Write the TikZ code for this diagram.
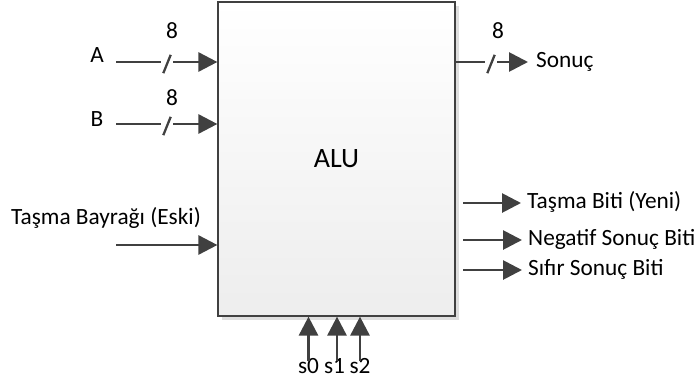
\documentclass[tikz,border=0pt]{standalone}
\usepackage{fontspec}
\setmainfont{Carlito}
\usetikzlibrary{arrows.meta,positioning,shadows}
\definecolor{pen}{HTML}{404040}
\begin{document}
\begin{tikzpicture}[
    x=1pt, y=-1pt,
    blk/.style={draw=pen, line width=1.2pt, minimum width=237pt, minimum height=314pt,
        top color=white, bottom color=black!7,
        drop shadow={shadow xshift=4pt, shadow yshift=-4pt, fill=black!13, opacity=1},
        font=\fontsize{28}{32}\selectfont},
    lbl/.style={inner sep=1pt, font=\fontsize{23.3}{27}\selectfont, text height=15pt, text depth=4pt},
    outlbl/.style={lbl, anchor=west, inner xsep=6pt},
    cut/.style={inner sep=0pt, minimum width=12pt, minimum height=18pt},
    slash/.style={draw=pen, line width=2.3pt},
    sig/.style={draw=pen, line width=2.8pt, -{Triangle[length=19pt,width=19pt]}},
    wire/.style={draw=pen, line width=2.8pt}
]
    \useasboundingbox (0,0) rectangle (698,383);

    % ALU blogu
    \node[blk] (alu) at (336.5,159) {ALU};

    % A girisi
    \node[lbl] (a) at (97,57) {A};
    \coordinate (inA) at (116,62);
    \node[cut] (sA) at (167,64) {};
    \node[lbl] (nA) at (172,33) {8};
    \draw[wire] (inA) -- (inA -| sA.west);
    \draw[sig] (inA -| sA.east) -- (inA -| alu.west);
    \draw[slash] ([xshift=2.5pt]sA.south west) -- ([xshift=-2.5pt]sA.north east);

    % B girisi
    \node[lbl] (b) at (97,121) {B};
    \coordinate (inB) at (116,124);
    \node[cut] (sB) at (167,126) {};
    \node[lbl] (nB) at (172,100) {8};
    \draw[wire] (inB) -- (inB -| sB.west);
    \draw[sig] (inB -| sB.east) -- (inB -| alu.west);
    \draw[slash] ([xshift=2.5pt]sB.south west) -- ([xshift=-2.5pt]sB.north east);

    % elde girisi
    \node[lbl] (eski) at (106,219) {Taşma Bayrağı (Eski)};
    \coordinate (inC) at (116,245);
    \draw[sig] (inC) -- (inC -| alu.west);

    % sonuc cikisi
    \node[cut] (sOut) at (491,64) {};
    \node[lbl] (nOut) at (498,33) {8};
    \node[outlbl, inner xsep=8pt] (sonuc) at (528,62) {Sonuç};
    \draw[wire] (sonuc -| alu.east) -- (sonuc -| sOut.west);
    \draw[sig] (sonuc -| sOut.east) -- (sonuc.west);
    \draw[slash] ([xshift=2.5pt]sOut.south west) -- ([xshift=-2.5pt]sOut.north east);

    % bayrak cikislari
    \coordinate (oT) at (463,203);
    \coordinate (oN) at (463,240);
    \coordinate (oS) at (463,270);
    \node[outlbl] (tasma) at (521,203) {Taşma Biti (Yeni)};
    \node[outlbl] (negatif) at (522,240) {Negatif Sonuç Biti};
    \node[outlbl] (sifir) at (522,270) {Sıfır Sonuç Biti};
    \draw[sig] (oT) -- (tasma.west);
    \draw[sig] (oN) -- (negatif.west);
    \draw[sig] (oS) -- (sifir.west);

    % secme girisleri
    \node[lbl] (s0) at (308.5,368) {s0};
    \node[lbl] (s1) at (334.5,368) {s1};
    \node[lbl] (s2) at (360,368) {s2};
    \draw[sig] ([yshift=-4pt]s0.north) -- (s0 |- alu.south);
    \draw[sig] ([xshift=2.5pt,yshift=-4pt]s1.north) -- ([xshift=2.5pt]s1 |- alu.south);
    \draw[sig] ([yshift=-4pt]s2.north) -- (s2 |- alu.south);
\end{tikzpicture}
\end{document}
